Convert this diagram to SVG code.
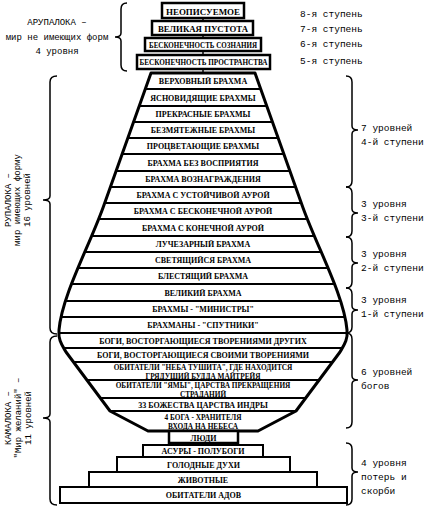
<svg xmlns="http://www.w3.org/2000/svg" width="428" height="509" viewBox="0 0 428 509">
<style>
.bx{fill:#fff;stroke:#000;stroke-width:2.5}
.lb{fill:#fff;stroke:#000;stroke-width:2}
.t{font-family:"Liberation Serif",serif;font-weight:bold;font-size:8px;fill:#000;text-anchor:middle}
.ts{font-family:"Liberation Serif",serif;font-weight:bold;font-size:7.3px;fill:#000;text-anchor:middle}
.m{font-family:"Liberation Mono",monospace;font-size:9.5px;fill:#000}
.ml{font-family:"Liberation Mono",monospace;font-size:9px;fill:#000;text-anchor:middle}
.br{fill:none;stroke:#000;stroke-width:1.5}
.dv{stroke:#000;stroke-width:2}
</style>
<defs>
<path id="vp" d="M151,73 L255,73 L302,205 C316,245 344,295 347,330 C348,340 344,345 340,352 L296,411 L258,431 L148,431 L110,411 L66,352 C62,345 58,340 59,330 C62,295 90,245 104,205 Z"/>
<clipPath id="vc"><use href="#vp"/></clipPath>
</defs>
<g id="connectors">
<line x1="203" y1="17" x2="203" y2="74" stroke="#000" stroke-width="1.5"/>
</g>
<g id="arupa-levels">
<g id="n-neopisuemoe"><rect class="bx" x="162" y="3" width="82" height="15"/><text class="t" x="203" y="14.5" font-size="10" textLength="74" lengthAdjust="spacingAndGlyphs">НЕОПИСУЕМОЕ</text></g>
<g id="n-pustota"><rect class="bx" x="152" y="21" width="101" height="14"/><text class="t" x="203" y="31.5" font-size="9" textLength="90" lengthAdjust="spacingAndGlyphs">ВЕЛИКАЯ ПУСТОТА</text></g>
<g id="n-soznanie"><rect class="bx" x="145" y="38" width="116" height="13"/><text class="t" x="203" y="47.5" font-size="7.5" textLength="108" lengthAdjust="spacingAndGlyphs">БЕСКОНЕЧНОСТЬ СОЗНАНИЯ</text></g>
<g id="n-prostranstvo"><rect class="bx" x="137" y="55" width="133" height="14"/><text class="t" x="203.5" y="64.5" font-size="7.5" textLength="128" lengthAdjust="spacingAndGlyphs">БЕСКОНЕЧНОСТЬ ПРОСТРАНСТВА</text></g>
</g>
<g id="vase">
<use href="#vp" fill="#fff"/>
<g clip-path="url(#vc)">
<line class="dv" x1="40" x2="370" y1="89" y2="89"/>
<line class="dv" x1="40" x2="370" y1="106" y2="106"/>
<line class="dv" x1="40" x2="370" y1="122" y2="122"/>
<line class="dv" x1="40" x2="370" y1="138" y2="138"/>
<line class="dv" x1="40" x2="370" y1="154" y2="154"/>
<line class="dv" x1="40" x2="370" y1="171" y2="171"/>
<line class="dv" x1="40" x2="370" y1="187" y2="187"/>
<line class="dv" x1="40" x2="370" y1="203" y2="203"/>
<line class="dv" x1="40" x2="370" y1="219" y2="219"/>
<line class="dv" x1="40" x2="370" y1="236" y2="236"/>
<line class="dv" x1="40" x2="370" y1="252" y2="252"/>
<line class="dv" x1="40" x2="370" y1="268" y2="268"/>
<line class="dv" x1="40" x2="370" y1="284" y2="284"/>
<line class="dv" x1="40" x2="370" y1="301" y2="301"/>
<line class="dv" x1="40" x2="370" y1="317" y2="317"/>
<line class="dv" x1="40" x2="370" y1="333" y2="333"/>
<line class="dv" x1="40" x2="370" y1="348" y2="348"/>
<line class="dv" x1="40" x2="370" y1="362" y2="362"/>
<line class="dv" x1="40" x2="370" y1="380" y2="380"/>
<line class="dv" x1="40" x2="370" y1="398" y2="398"/>
<line class="dv" x1="40" x2="370" y1="411" y2="411"/>
</g>
<use href="#vp" fill="none" stroke="#000" stroke-width="3" stroke-linejoin="round"/>
</g>
<g id="rupa-levels">
<g id="r1"><text class="t" x="203" y="84">ВЕРХОВНЫЙ БРАХМА</text></g>
<g id="r2"><text class="t" x="203" y="100.5">ЯСНОВИДЯЩИЕ БРАХМЫ</text></g>
<g id="r3"><text class="t" x="203" y="117">ПРЕКРАСНЫЕ БРАХМЫ</text></g>
<g id="r4"><text class="t" x="203" y="133">БЕЗМЯТЕЖНЫЕ БРАХМЫ</text></g>
<g id="r5"><text class="t" x="203" y="149">ПРОЦВЕТАЮЩИЕ БРАХМЫ</text></g>
<g id="r6"><text class="t" x="203" y="165.5">БРАХМА БЕЗ ВОСПРИЯТИЯ</text></g>
<g id="r7"><text class="t" x="203" y="182">БРАХМА ВОЗНАГРАЖДЕНИЯ</text></g>
<g id="r8"><text class="t" x="203" y="198">БРАХМА С УСТОЙЧИВОЙ АУРОЙ</text></g>
<g id="r9"><text class="t" x="203" y="214">БРАХМА С БЕСКОНЕЧНОЙ АУРОЙ</text></g>
<g id="r10"><text class="t" x="203" y="230.5">БРАХМА С КОНЕЧНОЙ АУРОЙ</text></g>
<g id="r11"><text class="t" x="203" y="247">ЛУЧЕЗАРНЫЙ БРАХМА</text></g>
<g id="r12"><text class="t" x="203" y="263">СВЕТЯЩИЙСЯ БРАХМА</text></g>
<g id="r13"><text class="t" x="203" y="279">БЛЕСТЯЩИЙ БРАХМА</text></g>
<g id="r14"><text class="t" x="203" y="295.5">ВЕЛИКИЙ БРАХМА</text></g>
<g id="r15"><text class="t" x="203" y="312">БРАХМЫ - "МИНИСТРЫ"</text></g>
<g id="r16"><text class="t" x="203" y="328">БРАХМАНЫ - "СПУТНИКИ"</text></g>
</g>
<g id="kama-levels">
<g id="k1"><text class="t" x="203" y="343.5">БОГИ, ВОСТОРГАЮЩИЕСЯ ТВОРЕНИЯМИ ДРУГИХ</text></g>
<g id="k2"><text class="t" x="203" y="358">БОГИ, ВОСТОРГАЮЩИЕСЯ СВОИМИ ТВОРЕНИЯМИ</text></g>
<g id="k3"><text class="ts" x="203" y="370">ОБИТАТЕЛИ "НЕБА ТУШИТА", ГДЕ НАХОДИТСЯ</text><text class="ts" x="203" y="378.5">ГРЯДУЩИЙ БУДДА МАЙТРЕЙЯ</text></g>
<g id="k4"><text class="ts" x="203" y="388">ОБИТАТЕЛИ "ЯМЫ", ЦАРСТВА ПРЕКРАЩЕНИЯ</text><text class="ts" x="203" y="396.5">СТРАДАНИЙ</text></g>
<g id="k5"><text class="t" x="203" y="407.5">33 БОЖЕСТВА ЦАРСТВА ИНДРЫ</text></g>
<g id="k6"><text class="ts" x="203" y="420">4 БОГА - ХРАНИТЕЛЯ</text><text class="ts" x="203" y="429">ВХОДА НА НЕБЕСА</text></g>
<g id="k7"><rect x="169" y="431" width="69" height="12" fill="#fff" stroke="#000" stroke-width="2.5"/><text class="t" x="203.5" y="440.5" font-size="9.5">ЛЮДИ</text></g>
<g id="k8"><rect class="lb" x="143" y="445" width="120" height="12"/><text class="t" x="203" y="454">АСУРЫ - ПОЛУБОГИ</text></g>
<g id="k9"><rect class="lb" x="117" y="457" width="173" height="15"/><text class="t" x="203.5" y="467.5">ГОЛОДНЫЕ ДУХИ</text></g>
<g id="k10"><rect class="lb" x="89" y="472" width="228" height="15"/><text class="t" x="203" y="482.5">ЖИВОТНЫЕ</text></g>
<g id="k11"><rect class="lb" x="60" y="487" width="287" height="16"/><text class="t" x="203.5" y="498">ОБИТАТЕЛИ АДОВ</text></g>
</g>
<g id="braces">
<path class="br" d="M127,3 Q121,3 121,9 L121,33 Q121,37 115,37 Q121,37 121,41 L121,65 Q121,71 127,71"/>
<path class="br" d="M57,76 Q50,76 50,82 L50,196 Q50,200 43,200 Q50,200 50,204 L50,328 Q50,334 57,334"/>
<path class="br" d="M57,336 Q50,336 50,342 L50,414 Q50,418 43,418 Q50,418 50,422 L50,499 Q50,505 57,505"/>
<path class="br" d="M346,76 Q352,76 352,82 L352,126 Q352,130 358,130 Q352,130 352,134 L352,181 Q352,187 346,187"/>
<path class="br" d="M346,187 Q352,187 352,193 L352,209 Q352,213 358,213 Q352,213 352,217 L352,231 Q352,237 346,237"/>
<path class="br" d="M346,237 Q352,237 352,243 L352,259 Q352,263 358,263 Q352,263 352,267 L352,282 Q352,288 346,288"/>
<path class="br" d="M346,288 Q352,288 352,294 L352,306 Q352,310 358,310 Q352,310 352,314 L352,327 Q352,333 346,333"/>
<path class="br" d="M346,333 Q352,333 352,339 L352,376 Q352,380 358,380 Q352,380 352,384 L352,422 Q352,428 346,428"/>
<path class="br" d="M346,443 Q352,443 352,449 L352,468 Q352,472 358,472 Q352,472 352,476 L352,499 Q352,505 346,505"/>
</g>
<g id="labels">
<text class="ml" x="57" y="25">АРУПАЛОКА –</text>
<text class="ml" x="57" y="40">мир не имеющих форм</text>
<text class="ml" x="57" y="54">4 уровня</text>
<text class="m" x="300" y="17">8-я ступень</text>
<text class="m" x="300" y="32">7-я ступень</text>
<text class="m" x="300" y="47">6-я ступень</text>
<text class="m" x="300" y="64">5-я ступень</text>
<g transform="translate(11,200) rotate(-90)"><text class="ml" x="0" y="0">РУПАЛОКА –</text></g>
<g transform="translate(20,200) rotate(-90)"><text class="ml" x="0" y="0">мир имеющих форму</text></g>
<g transform="translate(30,200) rotate(-90)"><text class="ml" x="0" y="0">16 уровней</text></g>
<g transform="translate(11,418) rotate(-90)"><text class="ml" x="0" y="0">КАМАЛОКА –</text></g>
<g transform="translate(21,418) rotate(-90)"><text class="ml" x="0" y="0">"Мир желаний" –</text></g>
<g transform="translate(31,418) rotate(-90)"><text class="ml" x="0" y="0">11 уровней</text></g>
<text class="m" x="361" y="131">7 уровней</text>
<text class="m" x="361" y="145">4-й ступени</text>
<text class="m" x="361" y="207">3 уровня</text>
<text class="m" x="361" y="221">3-й ступени</text>
<text class="m" x="361" y="257">3 уровня</text>
<text class="m" x="361" y="271">2-й ступени</text>
<text class="m" x="361" y="303">3 уровня</text>
<text class="m" x="361" y="317">1-й ступени</text>
<text class="m" x="361" y="375">6 уровней</text>
<text class="m" x="361" y="389">богов</text>
<text class="m" x="361" y="466">4 уровня</text>
<text class="m" x="361" y="480">потерь и</text>
<text class="m" x="361" y="494">скорби</text>
</g>
</svg>
